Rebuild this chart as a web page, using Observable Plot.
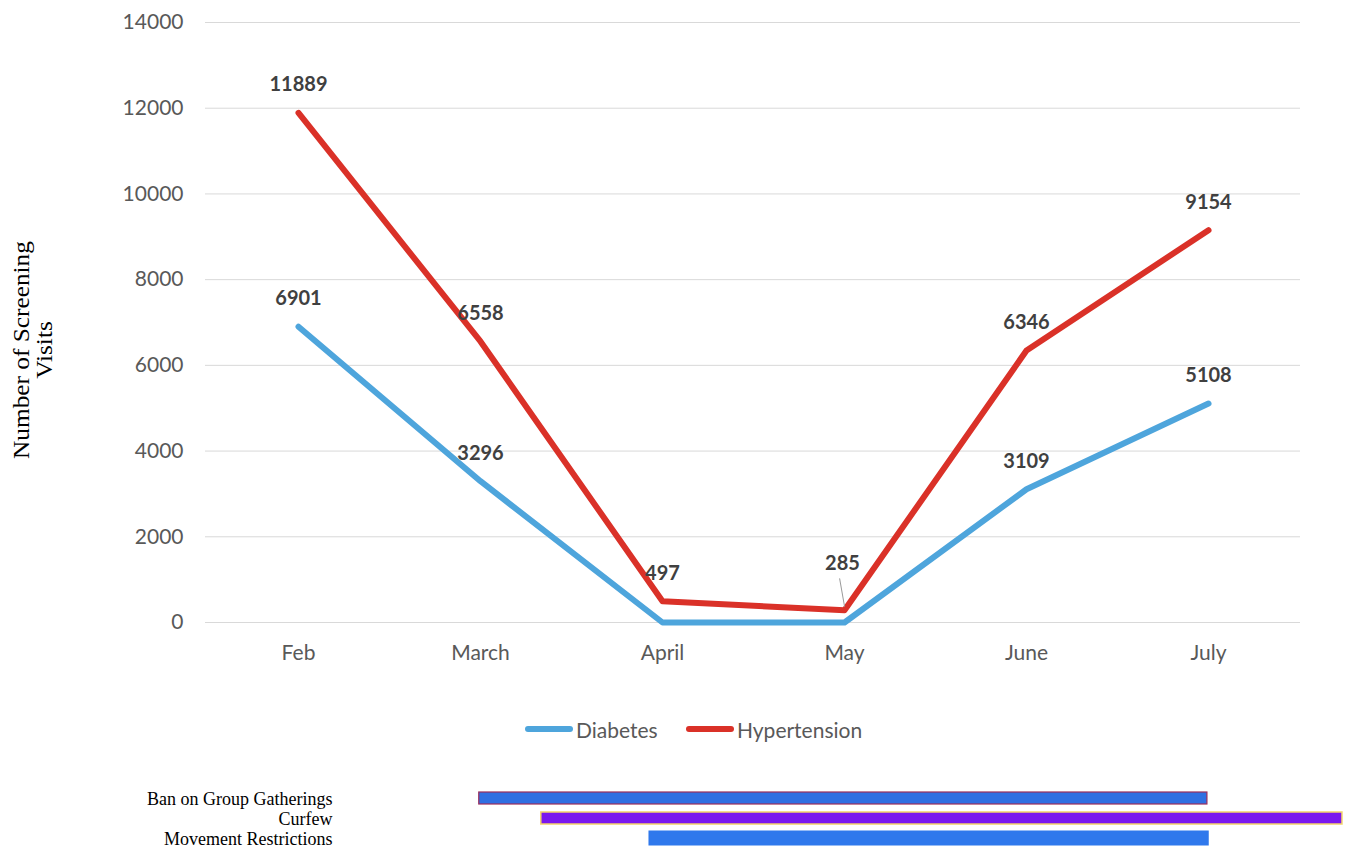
<!DOCTYPE html>
<html>
<head>
<meta charset="utf-8">
<script src="https://cdn.jsdelivr.net/npm/d3@7"></script>
<script src="https://cdn.jsdelivr.net/npm/@observablehq/plot@0.6"></script>
<style>
  html, body { margin: 0; padding: 0; background: #fff; }
  #wrap { width: 1345px; height: 852px; position: relative; overflow: hidden; }
  #ytitle { position: absolute; left: 33px; top: 350px; width: 260px;
            transform: translate(-50%, -50%) rotate(-90deg) scaleX(1.1);
            font-family: "Liberation Serif", "DejaVu Serif", serif; font-size: 23px;
            line-height: 23px; text-align: center; color: #000; white-space: nowrap; }
  #legend { position: absolute; left: 0; top: 712px; width: 1345px; height: 34px;
            font-family: Lato, "Open Sans", sans-serif; font-size: 21px; color: #595959; }
  .item { position: absolute; top: 0; display: flex; align-items: center; height: 34px; }
  .swatch { width: 48px; height: 6px; border-radius: 3px; margin-right: 3px; }
  #measures { position: absolute; left: 0; top: 780px; }
</style>
</head>
<body>
<div id="wrap">
  <div id="chart"></div>
  <div id="ytitle">Number of Screening<br>Visits</div>
  <div id="legend"></div>
  <div id="measures"></div>
</div>
<script>
// Monthly screening visits
const months = ["Feb", "March", "April", "May", "June", "July"];
const diabetes = [6901, 3296, 0, 0, 3109, 5108];
const hypertension = [11889, 6558, 497, 285, 6346, 9154];
const seriesNames = ["Diabetes", "Hypertension"];
const seriesColors = ["#4ea5dc", "#da3128"];
const yTicks = [0, 2000, 4000, 6000, 8000, 10000, 12000, 14000];

// Public-health measures, in month units (0 = Feb, 1 = March, ...)
const measures = ["Ban on Group Gatherings", "Curfew", "Movement Restrictions"];
const measureStart = [1.0, 1.34, 1.93];
const measureEnd = [4.99, 5.73, 5.0];

const rows = [
  ...months.map((m, i) => ({month: m, value: diabetes[i], series: "Diabetes", labelled: diabetes[i] > 0})),
  ...months.map((m, i) => ({month: m, value: hypertension[i], series: "Hypertension", labelled: true}))
];

const sans = "Lato, 'Open Sans', sans-serif";
const serif = "'Liberation Serif', 'DejaVu Serif', serif";

const chart = Plot.plot({
  width: 1345,
  height: 700,
  marginLeft: 205,
  marginRight: 45,
  marginTop: 22,
  marginBottom: 78,
  style: {fontFamily: sans, fontSize: "21px", color: "#595959", background: "#fff"},
  x: {type: "point", domain: months, padding: 0.5, label: null},
  y: {domain: [0, 14000], label: null},
  color: {domain: seriesNames, range: seriesColors},
  marks: [
    Plot.gridY(yTicks, {stroke: "#d9d9d9", strokeOpacity: 1, strokeWidth: 1}),
    Plot.axisY(yTicks, {tickSize: 0, tickPadding: 22, label: null, fill: "#595959",
      fontSize: 21, tickFormat: d => String(d)}),
    Plot.axisX(months, {tickSize: 0, tickPadding: 23, label: null, fill: "#595959", fontSize: 21}),
    Plot.line(rows, {x: "month", y: "value", z: "series", stroke: "series",
      strokeWidth: 6, strokeLinecap: "round", strokeLinejoin: "round"}),
    // leader line for the May hypertension label
    Plot.vector(rows.filter(d => d.series === "Hypertension" && d.month === "May"), {
      x: "month", y: "value", length: 28, rotate: -10, anchor: "start", dy: -4,
      stroke: "#9a9a9a", strokeWidth: 1,
      shape: {draw(ctx, l) { ctx.moveTo(0, 0); ctx.lineTo(0, -l); }}
    }),
    Plot.text(rows.filter(d => d.labelled && !(d.series === "Hypertension" && d.month === "May")), {
      x: "month", y: "value", text: d => String(d.value), dy: -28,
      fontWeight: "bold", fontSize: 20, fill: "#404040"
    }),
    Plot.text(rows.filter(d => d.series === "Hypertension" && d.month === "May"), {
      x: "month", y: "value", text: d => String(d.value), dy: -47, dx: -2,
      fontWeight: "bold", fontSize: 20, fill: "#404040"
    })
  ]
});
document.getElementById("chart").appendChild(chart);

// Legend
const legend = document.getElementById("legend");
const legendLeft = [525, 686];
seriesNames.forEach((name, i) => {
  const item = document.createElement("div");
  item.className = "item";
  item.style.left = legendLeft[i] + "px";
  const sw = document.createElement("div");
  sw.className = "swatch";
  sw.style.background = seriesColors[i];
  const label = document.createElement("span");
  label.textContent = name;
  item.appendChild(sw);
  item.appendChild(label);
  legend.appendChild(item);
});

// Timeline of measures
const measureRows = measures.map((m, i) => ({measure: m, start: measureStart[i], end: measureEnd[i]}));
const measurePlot = Plot.plot({
  width: 1345,
  height: 72,
  marginLeft: 205,
  marginRight: 45,
  marginTop: 8,
  marginBottom: 4,
  style: {background: "transparent", overflow: "visible"},
  x: {domain: [-0.5, 5.5], axis: null},
  y: {type: "band", domain: measures, padding: 0, axis: null},
  marks: [
    Plot.barX(measureRows.filter(d => d.measure === "Ban on Group Gatherings"), {
      x1: "start", x2: "end", y: "measure", insetTop: 4, insetBottom: 4,
      fill: "#2f6fe2", stroke: "#9b2d5c", strokeWidth: 1.2
    }),
    Plot.barX(measureRows.filter(d => d.measure === "Curfew"), {
      x1: "start", x2: "end", y: "measure", insetTop: 4, insetBottom: 4,
      fill: "#7a17ee", stroke: "#f3d36a", strokeWidth: 1.5
    }),
    Plot.barX(measureRows.filter(d => d.measure === "Movement Restrictions"), {
      x1: "start", x2: "end", y: "measure", insetTop: 2.5, insetBottom: 2.5,
      fill: "#2f78ec"
    }),
    Plot.text(measures, {
      y: d => d, frameAnchor: "left", dx: 127, dy: 1, textAnchor: "end",
      fontFamily: serif, fontSize: 18, fill: "#000"
    })
  ]
});
document.getElementById("measures").appendChild(measurePlot);
</script>
</body>
</html>
